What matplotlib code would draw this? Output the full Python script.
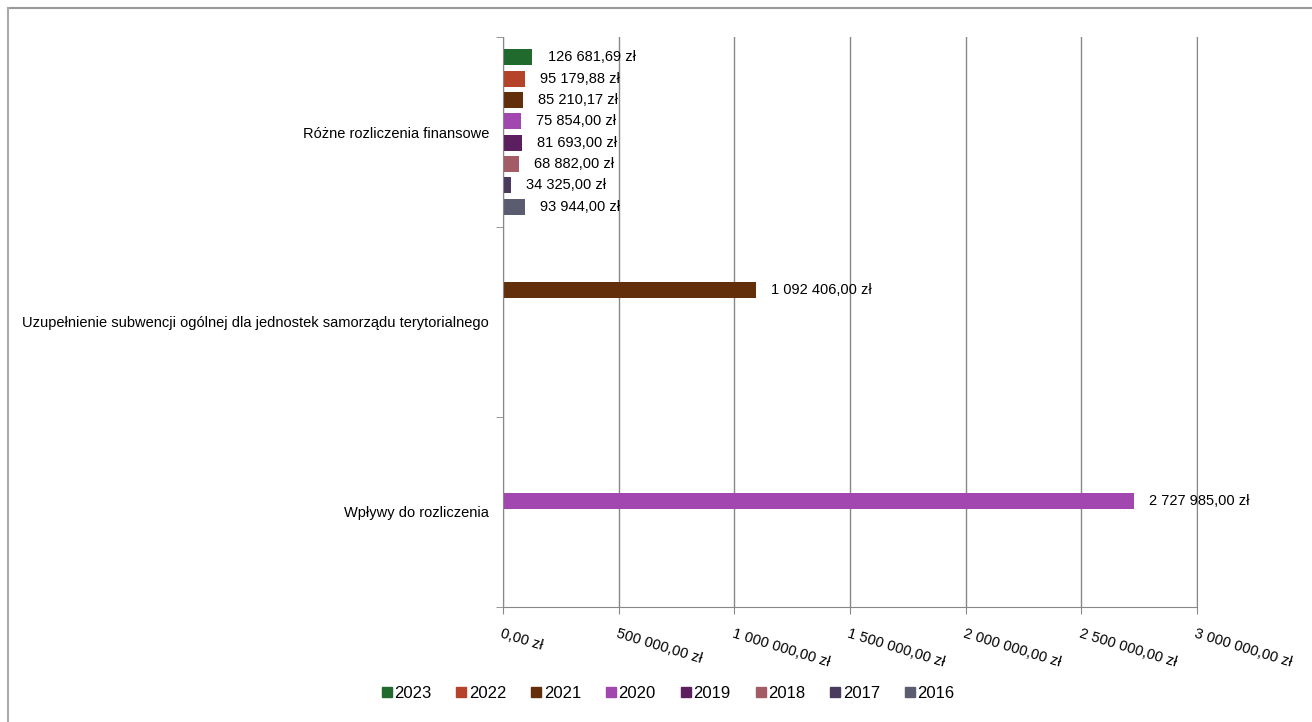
import numpy as np
import matplotlib.pyplot as plt
from matplotlib.lines import Line2D

plt.rcParams['font.family'] = ['Liberation Sans', 'DejaVu Sans']

categories = ['Różne rozliczenia finansowe',
              'Uzupełnienie subwencji ogólnej dla jednostek samorządu terytorialnego',
              'Wpływy do rozliczenia']
years = ['2023', '2022', '2021', '2020', '2019', '2018', '2017', '2016']
colors = ['#1f6a2c', '#b5432a', '#622f0a', '#a347b0', '#5b1f60', '#a35c65', '#4a3a5e', '#5c5c70']

# wartości dla każdego roku (kolejność kategorii jak wyżej), 0 = brak
v2023 = [126681.69, 0, 0]
v2022 = [95179.88, 0, 0]
v2021 = [85210.17, 1092406.00, 0]
v2020 = [75854.00, 0, 2727985.00]
v2019 = [81693.00, 0, 0]
v2018 = [68882.00, 0, 0]
v2017 = [34325.00, 0, 0]
v2016 = [93944.00, 0, 0]
values = [v2023, v2022, v2021, v2020, v2019, v2018, v2017, v2016]

xticks = [0, 500000, 1000000, 1500000, 2000000, 2500000, 3000000]


def zl(v):
    s = f'{v:,.2f}'.replace(',', ' ').replace('.', ',')
    return s + ' zł'


fig = plt.figure(figsize=(13.12, 7.22), dpi=100)
ax = fig.add_axes([503 / 1312, 1 - 607 / 722, 694 / 1312, 570 / 722])

y = np.arange(len(categories))
slot = 0.9 / len(years)
for j, (yr, vals, c) in enumerate(zip(years, values, colors)):
    pos = y - 0.45 + slot * (j + 0.5)
    for p, v in zip(pos, vals):
        if v > 0:
            ax.barh(p, v, height=slot * 0.75, color=c)
            ax.annotate(zl(v), (v, p), xytext=(11, 0), textcoords='offset points',
                        va='center', ha='left', fontsize=10.5)

ax.set_ylim(2.5, -0.5)
ax.set_xlim(0, 3000000)

ax.set_yticks(y)
ax.set_yticklabels(categories, fontsize=10.5)
ax.tick_params(axis='y', which='major', length=0, pad=10)
ax.set_yticks([-0.5, 0.5, 1.5, 2.5], minor=True)
ax.tick_params(axis='y', which='minor', length=5, color='#888888')

ax.set_xticks(xticks)
ax.set_xticklabels([zl(t) for t in xticks], rotation=-17, ha='left',
                   rotation_mode='anchor', fontsize=10.5)
ax.tick_params(axis='x', length=5, color='#888888', pad=9)
ax.grid(axis='x', color='#888888', linewidth=1)
ax.set_axisbelow(True)

ax.spines['top'].set_visible(False)
for s in ['left', 'bottom', 'right']:
    ax.spines[s].set_color('#888888')

handles = [Line2D([], [], marker='s', linestyle='', color=c, markersize=7.5) for c in colors]
fig.legend(handles, years, loc='center', bbox_to_anchor=(668 / 1312, 1 - 693 / 722),
           ncol=8, frameon=False, fontsize=12, handlelength=0.6, handletextpad=0.15,
           columnspacing=1.5)

# ramka wykresu (górna i lewa krawędź)
fig.add_artist(Line2D([8 / 1312, 1], [1 - 8 / 722, 1 - 8 / 722], color='#999999', linewidth=1.5))
fig.add_artist(Line2D([8 / 1312, 8 / 1312], [0, 1 - 8 / 722], color='#aaaaaa', linewidth=1.5))

fig.savefig('out.png', dpi=100)
